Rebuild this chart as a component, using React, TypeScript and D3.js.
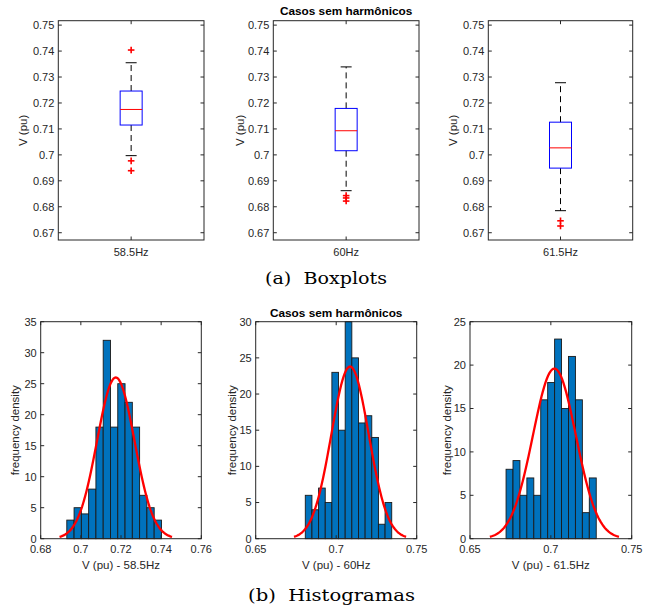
import React from 'react';
import * as d3 from 'd3';

// ---------- Boxplot data ----------
const boxCategories = ['58.5Hz', '60Hz', '61.5Hz'];
const boxQ1 = [0.7115, 0.7016, 0.6949];
const boxMedian = [0.7175, 0.7093, 0.7027];
const boxQ3 = [0.7246, 0.7179, 0.7126];
const boxWhiskerLow = [0.6997, 0.6862, 0.6785];
const boxWhiskerHigh = [0.7355, 0.7339, 0.7278];
const boxOutliers = [
  [0.7404, 0.6977, 0.6939],
  [0.6843, 0.6834, 0.6822],
  [0.6746, 0.6726],
];
const boxYTicks = [0.67, 0.68, 0.69, 0.7, 0.71, 0.72, 0.73, 0.74, 0.75];
const boxYDomain = [0.6672, 0.7517];

// ---------- Histogram data ----------
const histLabels = ['V (pu) - 58.5Hz', 'V (pu) - 60Hz', 'V (pu) - 61.5Hz'];
const histCounts = [
  [3, 5, 4, 8, 18, 32, 18, 25, 22, 18, 7, 5, 3],
  [6, 4, 7, 5, 23, 15, 30, 25, 16, 17, 14, 2, 5],
  [8, 9, 5, 7, 5, 16, 18, 23, 15, 21, 16, 3, 7],
];
const histBinStart = [0.693, 0.6808, 0.6723];
const histBinWidth = [0.003627, 0.00413, 0.00429];
const histXDomain = [[0.68, 0.76], [0.65, 0.75], [0.65, 0.75]];
const histXTicks = [[0.68, 0.7, 0.72, 0.74, 0.76], [0.65, 0.7, 0.75], [0.65, 0.7, 0.75]];
const histYMax = [35, 30, 25];
const fitMu = [0.7174, 0.7086, 0.7022];
const fitSigma = [0.00934, 0.0116, 0.0133];
const fitPeak = [26, 23.8, 19.6];

const title = 'Casos sem harmônicos';
const captionA = '(a)  Boxplots';
const captionB = '(b)  Histogramas';

// ---------- Layout ----------
const boxFrames = [
  { x0: 58.3, x1: 204 },
  { x0: 273.3, x1: 419 },
  { x0: 488.3, x1: 632.7 },
];
const boxY0 = 20.7;
const boxY1 = 240;
const boxYLabelX = [23, 240, 453];

const histFrames = [
  { x0: 40.7, x1: 201.3 },
  { x0: 255.7, x1: 416.7 },
  { x0: 470, x1: 631.7 },
];
const histY0 = 321.7;
const histY1 = 538.7;
const histYLabelX = [15, 231.7, 446.7];

const AX = '#262626';
const FONT = 'Liberation Sans, Arial, Helvetica, sans-serif';
const SERIF = 'DejaVu Serif, Liberation Serif, serif';
const TICK = 3.5;

const fmt = (v: number) => String(+v.toFixed(3));

function BoxPanel({ i }: { i: number }) {
  const f = boxFrames[i];
  const y = d3.scaleLinear().domain(boxYDomain).range([boxY1, boxY0]);
  const x = d3.scaleBand().domain([boxCategories[i]]).range([f.x0, f.x1]);
  const cx = (x(boxCategories[i]) as number) + x.bandwidth() / 2;
  const bw = 22;
  const cw = 11;
  const plus = 3.3;
  return (
    <g>
      {boxYTicks.map((t) => (
        <g key={t}>
          <line x1={f.x0} x2={f.x0 + TICK} y1={y(t)} y2={y(t)} stroke={AX} strokeWidth={1} />
          <line x1={f.x1} x2={f.x1 - TICK} y1={y(t)} y2={y(t)} stroke={AX} strokeWidth={1} />
          <text x={f.x0 - 4} y={y(t)} dy="0.35em" textAnchor="end" fontSize={11} fill={AX} fontFamily={FONT}>
            {fmt(t)}
          </text>
        </g>
      ))}
      <line x1={cx} x2={cx} y1={boxY1} y2={boxY1 - TICK} stroke={AX} />
      <line x1={cx} x2={cx} y1={boxY0} y2={boxY0 + TICK} stroke={AX} />
      <text x={cx} y={256} textAnchor="middle" fontSize={11} fill={AX} fontFamily={FONT}>
        {boxCategories[i]}
      </text>
      <text
        transform={`translate(${boxYLabelX[i]},${(boxY0 + boxY1) / 2}) rotate(-90)`}
        dy="0.35em"
        textAnchor="middle"
        fontSize={11.5}
        fill={AX}
        fontFamily={FONT}
      >
        V (pu)
      </text>
      {/* whiskers */}
      <line x1={cx} x2={cx} y1={y(boxQ3[i])} y2={y(boxWhiskerHigh[i])} stroke="#000" strokeWidth={1} strokeDasharray="6,4" />
      <line x1={cx} x2={cx} y1={y(boxQ1[i])} y2={y(boxWhiskerLow[i])} stroke="#000" strokeWidth={1} strokeDasharray="6,4" />
      <line x1={cx - cw / 2} x2={cx + cw / 2} y1={y(boxWhiskerHigh[i])} y2={y(boxWhiskerHigh[i])} stroke="#000" strokeWidth={1} />
      <line x1={cx - cw / 2} x2={cx + cw / 2} y1={y(boxWhiskerLow[i])} y2={y(boxWhiskerLow[i])} stroke="#000" strokeWidth={1} />
      {/* box */}
      <rect
        x={cx - bw / 2}
        y={y(boxQ3[i])}
        width={bw}
        height={y(boxQ1[i]) - y(boxQ3[i])}
        fill="none"
        stroke="#0000FF"
        strokeWidth={1}
      />
      <line x1={cx - bw / 2} x2={cx + bw / 2} y1={y(boxMedian[i])} y2={y(boxMedian[i])} stroke="#FF0000" strokeWidth={1} />
      {boxOutliers[i].map((o, k) => (
        <g key={k} stroke="#FF0000" strokeWidth={1.6}>
          <line x1={cx - plus} x2={cx + plus} y1={y(o)} y2={y(o)} />
          <line x1={cx} x2={cx} y1={y(o) - plus} y2={y(o) + plus} />
        </g>
      ))}
      <rect x={f.x0} y={boxY0} width={f.x1 - f.x0} height={boxY1 - boxY0} fill="none" stroke={AX} strokeWidth={1} />
    </g>
  );
}

function HistPanel({ i }: { i: number }) {
  const f = histFrames[i];
  const x = d3.scaleLinear().domain(histXDomain[i]).range([f.x0, f.x1]);
  const y = d3.scaleLinear().domain([0, histYMax[i]]).range([histY1, histY0]);
  const yTicks = d3.range(0, histYMax[i] + 0.001, 5);
  const mu = fitMu[i];
  const s = fitSigma[i];
  const xs = d3.range(0, 101).map((k) => mu - 3 * s + (6 * s * k) / 100);
  const line = d3
    .line<number>()
    .x((v) => x(v))
    .y((v) => y(fitPeak[i] * Math.exp(-((v - mu) * (v - mu)) / (2 * s * s))))
    .curve(d3.curveLinear);
  return (
    <g>
      {histCounts[i].map((c, k) => {
        const a = histBinStart[i] + k * histBinWidth[i];
        const b = a + histBinWidth[i];
        return (
          <rect
            key={k}
            x={x(a)}
            y={y(c)}
            width={x(b) - x(a)}
            height={y(0) - y(c)}
            fill="#0072BD"
            stroke="#1a1a1a"
            strokeWidth={0.9}
          />
        );
      })}
      <path d={line(xs) || ''} fill="none" stroke="#FF0000" strokeWidth={2.3} />
      {yTicks.map((t) => (
        <g key={t}>
          <line x1={f.x0} x2={f.x0 + TICK} y1={y(t)} y2={y(t)} stroke={AX} />
          <line x1={f.x1} x2={f.x1 - TICK} y1={y(t)} y2={y(t)} stroke={AX} />
          <text x={f.x0 - 4} y={y(t)} dy="0.35em" textAnchor="end" fontSize={11} fill={AX} fontFamily={FONT}>
            {t}
          </text>
        </g>
      ))}
      {histXTicks[i].map((t) => (
        <g key={t}>
          <line x1={x(t)} x2={x(t)} y1={histY1} y2={histY1 - TICK} stroke={AX} />
          <line x1={x(t)} x2={x(t)} y1={histY0} y2={histY0 + TICK} stroke={AX} />
          <text x={x(t)} y={553} textAnchor="middle" fontSize={11} fill={AX} fontFamily={FONT}>
            {fmt(t)}
          </text>
        </g>
      ))}
      <text x={(f.x0 + f.x1) / 2} y={569} textAnchor="middle" fontSize={11.5} fill={AX} fontFamily={FONT}>
        {histLabels[i]}
      </text>
      <text
        transform={`translate(${histYLabelX[i]},${(histY0 + histY1) / 2}) rotate(-90)`}
        dy="0.35em"
        textAnchor="middle"
        fontSize={11.5}
        fill={AX}
        fontFamily={FONT}
      >
        frequency density
      </text>
      <rect x={f.x0} y={histY0} width={f.x1 - f.x0} height={histY1 - histY0} fill="none" stroke={AX} strokeWidth={1} />
    </g>
  );
}

export default function App() {
  return (
    <svg
      width={653}
      height={609}
      style={{ position: 'absolute', left: 0, top: 0, background: '#fff' }}
    >
      <rect x={0} y={0} width={653} height={609} fill="#fff" />
      {[0, 1, 2].map((i) => (
        <BoxPanel key={`b${i}`} i={i} />
      ))}
      <text x={(boxFrames[1].x0 + boxFrames[1].x1) / 2} y={15} textAnchor="middle" fontSize={11.8} fontWeight="bold" fill="#000" fontFamily={FONT}>
        {title}
      </text>
      <text x={265} y={284} fontSize={16.5} fill="#000" fontFamily={SERIF} xmlSpace="preserve" textLength={122} lengthAdjust="spacingAndGlyphs">
        {captionA}
      </text>
      {[0, 1, 2].map((i) => (
        <HistPanel key={`h${i}`} i={i} />
      ))}
      <text x={(histFrames[1].x0 + histFrames[1].x1) / 2} y={316.5} textAnchor="middle" fontSize={11.8} fontWeight="bold" fill="#000" fontFamily={FONT}>
        {title}
      </text>
      <text x={248} y={600.5} fontSize={17} fill="#000" fontFamily={SERIF} xmlSpace="preserve" textLength={167} lengthAdjust="spacingAndGlyphs">
        {captionB}
      </text>
    </svg>
  );
}
